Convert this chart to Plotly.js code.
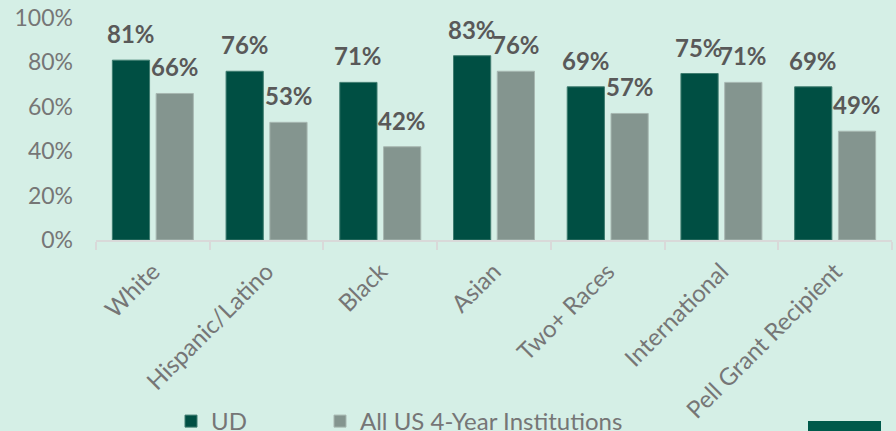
<!DOCTYPE html>
<html>
<head>
<meta charset="utf-8">
<script src="https://cdn.plot.ly/plotly-3.0.1.min.js"></script>
<style>html,body{margin:0;padding:0;background:#d5efe6;}#chart{width:896px;height:431px;}</style>
</head>
<body>
<div id="chart"></div>
<script>
const categories = ["White", "Hispanic/Latino", "Black", "Asian", "Two+ Races", "International", "Pell Grant Recipient"];
const udValues = [0.81, 0.76, 0.71, 0.83, 0.69, 0.75, 0.69];
const usValues = [0.66, 0.53, 0.42, 0.76, 0.57, 0.71, 0.49];
const seriesNames = ["UD", "All US 4-Year Institutions"];
const yTickVals = [0, 0.2, 0.4, 0.6, 0.8, 1.0];
const yTickText = ["0%", "20%", "40%", "60%", "80%", "100%"];

const green = "#004f43";
const grey = "#84958f";
const bg = "#d5efe6";
const fontFam = "Lato, 'Open Sans', sans-serif";
const textGrey = "#767676";

const fmt = v => Math.round(v * 100) + "%";

const traces = [
  {type: "bar", name: seriesNames[0], x: categories, y: udValues, legend: "legend",
   marker: {color: green, line: {color: "#3f7d70", width: 1}}, hoverinfo: "none"},
  {type: "bar", name: seriesNames[1], x: categories, y: usValues, legend: "legend2",
   marker: {color: grey, line: {color: "#a7b7b1", width: 1}}, hoverinfo: "none"}
];

const labelFont = {family: fontFam, size: 24, color: "#595959", weight: "bold"};
const annotations = [];
categories.forEach((c, i) => {
  annotations.push({x: c, y: udValues[i], xref: "x", yref: "y", text: fmt(udValues[i]),
    showarrow: false, xshift: -22, yshift: 10, yanchor: "bottom", font: labelFont});
  annotations.push({x: c, y: usValues[i], xref: "x", yref: "y", text: fmt(usValues[i]),
    showarrow: false, xshift: 22, yshift: 10, yanchor: "bottom", font: labelFont});
});

const legendFont = {family: fontFam, size: 24, color: textGrey};
const legendY = (431 - 399) / 431;
const layout = {
  width: 896, height: 431,
  paper_bgcolor: bg, plot_bgcolor: bg,
  margin: {l: 96, r: 4, t: 18, b: 191},
  barmode: "group", bargap: 0.23, bargroupgap: 0.15,
  font: {family: fontFam, color: textGrey},
  xaxis: {type: "category", tickangle: -45, tickson: "boundaries", ticks: "outside",
    ticklen: 8, tickcolor: "#d9d9d9", tickwidth: 2, showline: true, linecolor: "#d9d9d9", linewidth: 2,
    ticklabelstandoff: 6, automargin: false,
    tickfont: {family: fontFam, size: 24, color: textGrey}, showgrid: false, fixedrange: true},
  yaxis: {range: [0, 1], tickvals: yTickVals, ticktext: yTickText, showgrid: false,
    zeroline: false, showline: false, ticks: "", ticklabelstandoff: 22, automargin: false,
    tickfont: {family: fontFam, size: 23, color: textGrey}, fixedrange: true},
  legend: {orientation: "h", xref: "container", yref: "container", x: 171 / 896, xanchor: "left",
    y: legendY, yanchor: "top", font: legendFont, bgcolor: "rgba(0,0,0,0)"},
  legend2: {orientation: "h", xref: "container", yref: "container", x: 320 / 896, xanchor: "left",
    y: legendY, yanchor: "top", font: legendFont, bgcolor: "rgba(0,0,0,0)"},
  annotations: annotations,
  shapes: [{type: "rect", xref: "paper", yref: "paper", x0: (808 - 96) / 796, x1: (881 - 96) / 796,
    y0: (240 - 421) / 222, y1: (240 - 440) / 222, fillcolor: "#005a4b", line: {width: 0}}],
  showlegend: true
};

Plotly.newPlot("chart", traces, layout, {displayModeBar: false, staticPlot: true});
</script>
</body>
</html>
